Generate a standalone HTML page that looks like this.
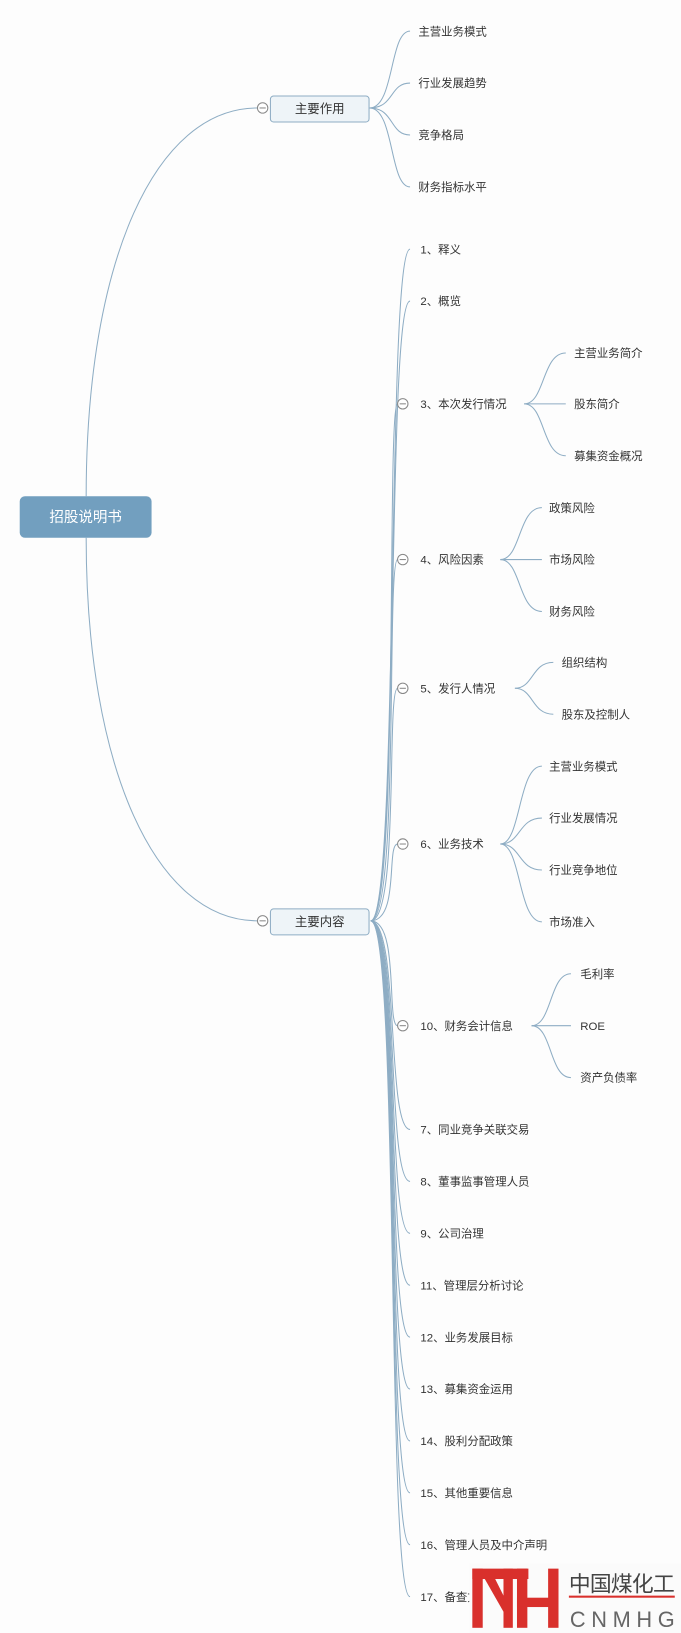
<!DOCTYPE html>
<html><head><meta charset="utf-8"><style>
html,body{margin:0;padding:0;background:#fdfdfd;}
svg{display:block;}
text{font-family:"Liberation Sans","Noto Sans CJK SC",sans-serif;}
</style></head><body>
<svg width="681" height="1633" viewBox="0 0 656 1573" preserveAspectRatio="none" xmlns="http://www.w3.org/2000/svg">
<rect x="0" y="0" width="656" height="1573" fill="#fdfdfd"/>
<g fill="none" stroke="#8eadc4" stroke-width="1">
<path d="M83,478 C83,250 150,104 248,104"/>
<path d="M83,518 C83,740 150,887 248,887"/>
<path d="M356,104 C380,104 375,30 395,30"/>
<path d="M356,104 C380,104 375,80 395,80"/>
<path d="M356,104 C380,104 375,130 395,130"/>
<path d="M356,104 C380,104 375,180 395,180"/>
<path d="M357,887 C385,887 372,240 395,240"/>
<path d="M357,887 C385,887 372,290 395,290"/>
<path d="M357,887 C385,887 372,389 383,389"/>
<path d="M357,887 C385,887 372,539 383,539"/>
<path d="M357,887 C385,887 372,663 383,663"/>
<path d="M357,887 C385,887 372,813 383,813"/>
<path d="M357,887 C385,887 372,988 383,988"/>
<path d="M357,887 C385,887 372,1088 395,1088"/>
<path d="M357,887 C385,887 372,1138 395,1138"/>
<path d="M357,887 C385,887 372,1188 395,1188"/>
<path d="M357,887 C385,887 372,1238 395,1238"/>
<path d="M357,887 C385,887 372,1288 395,1288"/>
<path d="M357,887 C385,887 372,1338 395,1338"/>
<path d="M357,887 C385,887 372,1388 395,1388"/>
<path d="M357,887 C385,887 372,1438 395,1438"/>
<path d="M357,887 C385,887 372,1488 395,1488"/>
<path d="M357,887 C385,887 372,1538 395,1538"/>
<path d="M505,389 C525,389 522,340 545,340"/>
<path d="M505,389 L545,389"/>
<path d="M505,389 C525,389 522,439 545,439"/>
<path d="M482,539 C502,539 499,489 522,489"/>
<path d="M482,539 L522,539"/>
<path d="M482,539 C502,539 499,589 522,589"/>
<path d="M496,663 C514,663 512,638 533,638"/>
<path d="M496,663 C514,663 512,688 533,688"/>
<path d="M482,813 C502,813 499,738 522,738"/>
<path d="M482,813 C502,813 499,788 522,788"/>
<path d="M482,813 C502,813 499,838 522,838"/>
<path d="M482,813 C502,813 499,888 522,888"/>
<path d="M512,988 C532,988 529,938 550,938"/>
<path d="M512,988 L550,988"/>
<path d="M512,988 C532,988 529,1038 550,1038"/>
</g>
<rect x="19" y="478" width="127" height="40" rx="5" fill="#729fbf"/>
<text x="82.5" y="503" font-size="14" fill="#fff" text-anchor="middle">招股说明书</text>
<rect x="260.5" y="92.5" width="95" height="25" rx="3" fill="#eef4f8" stroke="#8eadc4"/>
<text x="308" y="109" font-size="12" fill="#333" text-anchor="middle">主要作用</text>
<rect x="260.5" y="875.5" width="95" height="25" rx="3" fill="#eef4f8" stroke="#8eadc4"/>
<text x="308" y="892" font-size="12" fill="#333" text-anchor="middle">主要内容</text>
<g fill="#fff" stroke="#888" stroke-width="1">
<circle cx="253" cy="104" r="5"/><circle cx="253" cy="887" r="5"/>
<circle cx="388" cy="389" r="5"/><circle cx="388" cy="539" r="5"/>
<circle cx="388" cy="663" r="5"/><circle cx="388" cy="813" r="5"/>
<circle cx="388" cy="988" r="5"/>
</g>
<g stroke="#888" stroke-width="1">
<line x1="250" y1="104" x2="256" y2="104"/><line x1="250" y1="887" x2="256" y2="887"/>
<line x1="385" y1="389" x2="391" y2="389"/><line x1="385" y1="539" x2="391" y2="539"/>
<line x1="385" y1="663" x2="391" y2="663"/><line x1="385" y1="813" x2="391" y2="813"/>
<line x1="385" y1="988" x2="391" y2="988"/>
</g>
<g font-size="11" fill="#333">
<text x="403" y="34">主营业务模式</text>
<text x="403" y="84">行业发展趋势</text>
<text x="403" y="134">竞争格局</text>
<text x="403" y="184">财务指标水平</text>
<text x="405" y="244">1、释义</text>
<text x="405" y="294">2、概览</text>
<text x="405" y="393">3、本次发行情况</text>
<text x="405" y="543">4、风险因素</text>
<text x="405" y="667">5、发行人情况</text>
<text x="405" y="817">6、业务技术</text>
<text x="405" y="992">10、财务会计信息</text>
<text x="405" y="1092">7、同业竞争关联交易</text>
<text x="405" y="1142">8、董事监事管理人员</text>
<text x="405" y="1192">9、公司治理</text>
<text x="405" y="1242">11、管理层分析讨论</text>
<text x="405" y="1292">12、业务发展目标</text>
<text x="405" y="1342">13、募集资金运用</text>
<text x="405" y="1392">14、股利分配政策</text>
<text x="405" y="1442">15、其他重要信息</text>
<text x="405" y="1492">16、管理人员及中介声明</text>
<text x="405" y="1542">17、备查文件</text>
<text x="553" y="344">主营业务简介</text>
<text x="553" y="393">股东简介</text>
<text x="553" y="443">募集资金概况</text>
<text x="529" y="493">政策风险</text>
<text x="529" y="543">市场风险</text>
<text x="529" y="593">财务风险</text>
<text x="541" y="642">组织结构</text>
<text x="541" y="692">股东及控制人</text>
<text x="529" y="742">主营业务模式</text>
<text x="529" y="792">行业发展情况</text>
<text x="529" y="842">行业竞争地位</text>
<text x="529" y="892">市场准入</text>
<text x="559" y="942">毛利率</text>
<text x="559" y="992">ROE</text>
<text x="559" y="1042">资产负债率</text>
</g>
<rect x="452" y="1506" width="204" height="67" fill="#fbfbfb"/>
<g fill="#d9302c">
<rect x="455" y="1511" width="10" height="57"/>
<rect x="455" y="1511" width="54" height="10"/>
<polygon points="467,1521 477,1521 490,1547 487,1556"/>
<rect x="485" y="1511" width="9" height="57"/>
<rect x="498" y="1511" width="10" height="57"/>
<rect x="528" y="1511" width="10" height="57"/>
<rect x="498" y="1539" width="40" height="9"/>
<rect x="548" y="1537" width="102" height="2"/>
</g>
<text x="548" y="1533" font-size="21" fill="#444" textLength="102">中国煤化工</text>
<text x="549" y="1567" font-size="21" fill="#666" textLength="101">CNMHG</text>
</svg>
</body></html>
